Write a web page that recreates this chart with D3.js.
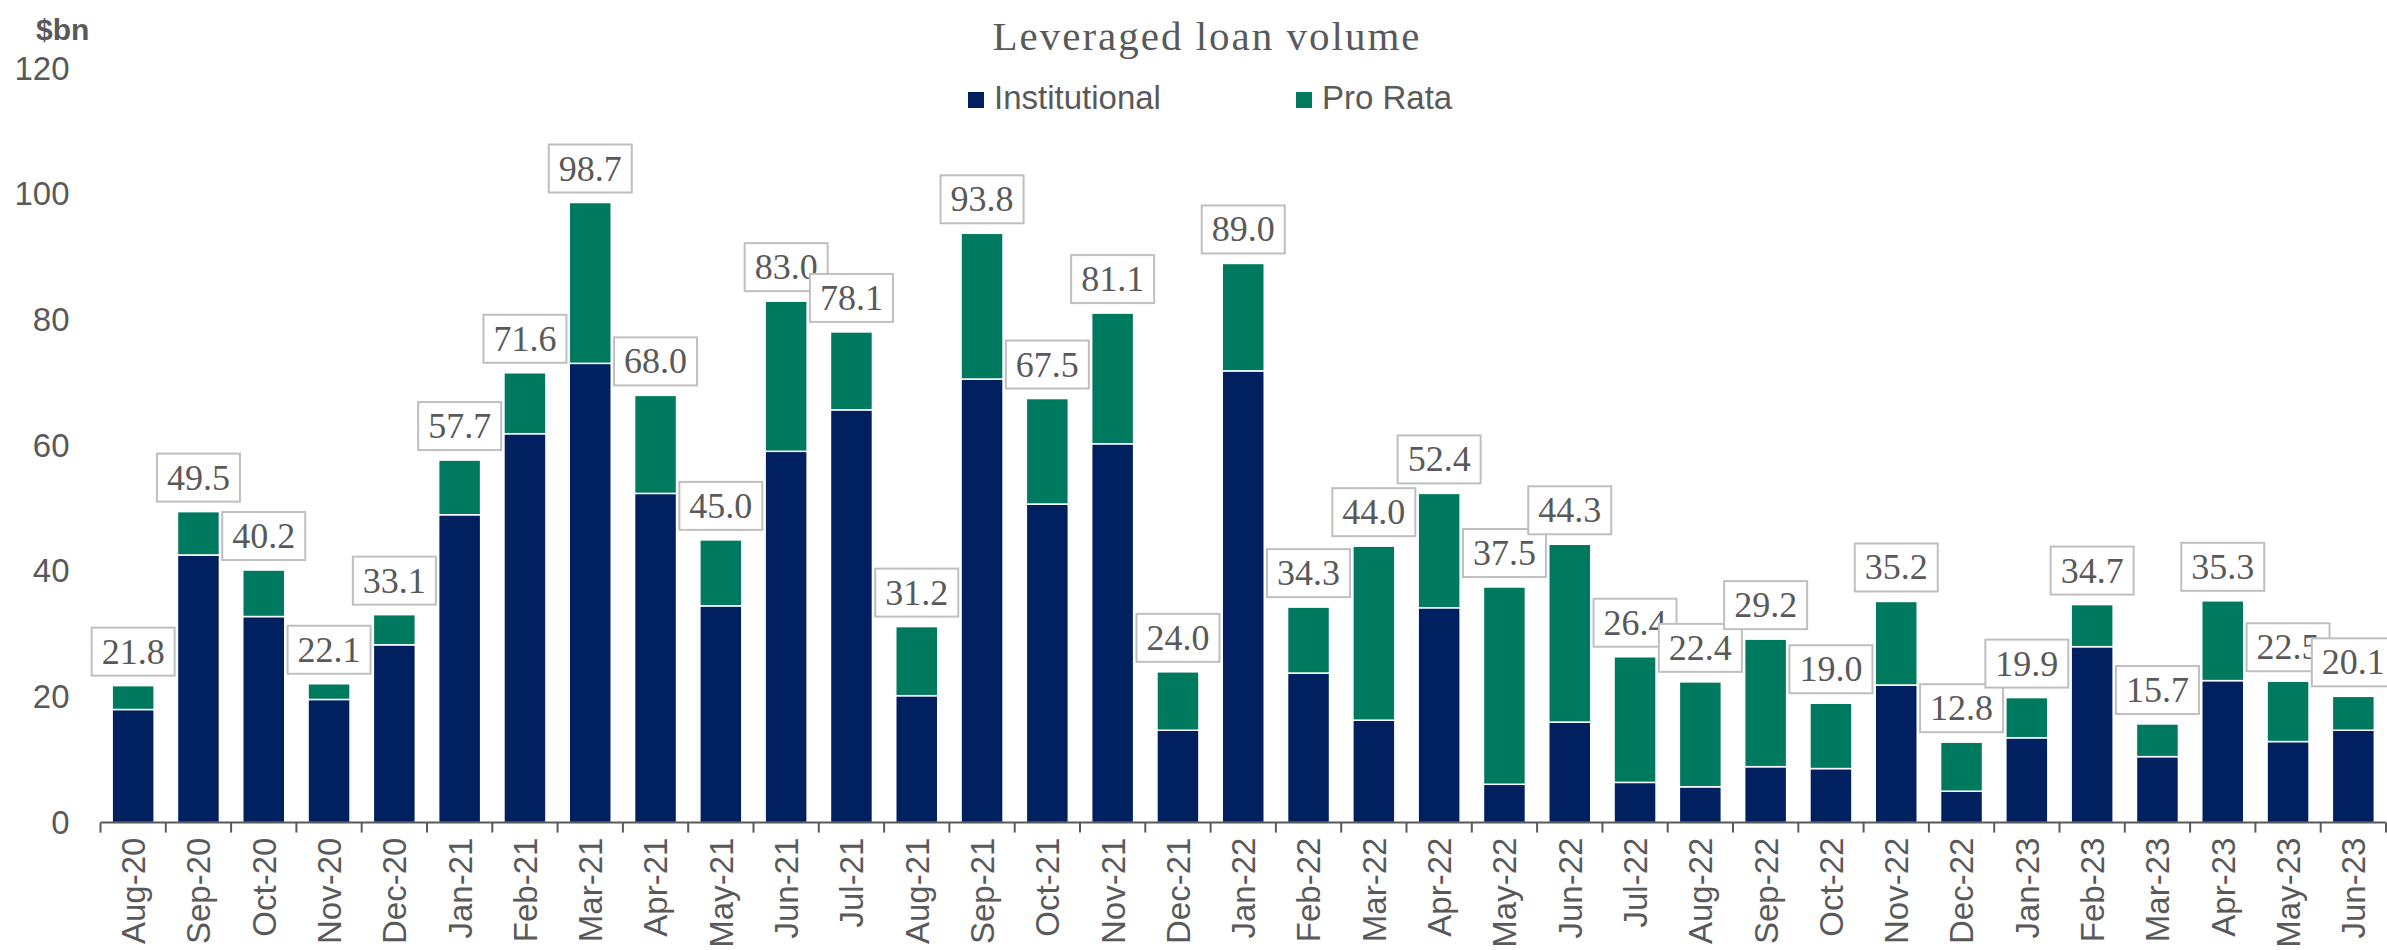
<!DOCTYPE html>
<html>
<head>
<meta charset="utf-8">
<script src="https://cdn.jsdelivr.net/npm/d3@7"></script>
<style>
  html, body { margin: 0; padding: 0; background: #ffffff; }
  svg { display: block; }
</style>
</head>
<body>
<svg id="chart" width="2387" height="950"></svg>
<script>
const categories = ["Aug-20","Sep-20","Oct-20","Nov-20","Dec-20",
  "Jan-21","Feb-21","Mar-21","Apr-21","May-21","Jun-21","Jul-21","Aug-21","Sep-21","Oct-21","Nov-21","Dec-21",
  "Jan-22","Feb-22","Mar-22","Apr-22","May-22","Jun-22","Jul-22","Aug-22","Sep-22","Oct-22","Nov-22","Dec-22",
  "Jan-23","Feb-23","Mar-23","Apr-23","May-23","Jun-23"];

const institutional = [18.0,42.6,32.8,19.6,28.3,
  49.0,61.9,73.1,52.4,34.5,59.1,65.7,20.2,70.6,50.7,60.3,14.7,
  71.9,23.8,16.3,34.2,6.1,16.0,6.4,5.7,8.9,8.6,21.9,5.0,
  13.5,28.0,10.5,22.6,12.9,14.7];

const proRata = [3.8,6.9,7.4,2.5,4.8,
  8.7,9.7,25.6,15.6,10.5,23.9,12.4,11.0,23.2,16.8,20.8,9.3,
  17.1,10.5,27.7,18.2,31.4,28.3,20.0,16.7,20.3,10.4,13.3,7.8,
  6.4,6.7,5.2,12.7,9.6,5.4];

const totals = [21.8,49.5,40.2,22.1,33.1,
  57.7,71.6,98.7,68.0,45.0,83.0,78.1,31.2,93.8,67.5,81.1,24.0,
  89.0,34.3,44.0,52.4,37.5,44.3,26.4,22.4,29.2,19.0,35.2,12.8,
  19.9,34.7,15.7,35.3,22.5,20.1];

const yTicks = [0,20,40,60,80,100,120];
const seriesNames = ["Institutional","Pro Rata"];
const titleText = "Leveraged loan volume";
const unitText = "$bn";

const colors = {"Institutional":"#002060","Pro Rata":"#007A5E"};
const textGray = "#595959";

const svg = d3.select("#chart");

const left = 100.5, right = 2386, y0 = 822.6, yTop = 68.7;
const pad = 0.357;

const x = d3.scaleBand().domain(categories).range([left, right])
  .paddingInner(pad).paddingOuter(pad/2);
const y = d3.scaleLinear().domain([0,120]).range([y0, yTop]);

const rows = categories.map((c,i) => ({cat:c, "Institutional":institutional[i], "Pro Rata":proRata[i], total: totals[i]}));
const stacked = d3.stack().keys(seriesNames)(rows);

// bars
svg.append("g").selectAll("g").data(stacked).join("g")
  .attr("fill", d => colors[d.key])
  .selectAll("rect").data(d => d).join("rect")
  .attr("x", d => x(d.data.cat))
  .attr("width", x.bandwidth())
  .attr("y", d => y(d[1]))
  .attr("height", d => y(d[0]) - y(d[1]))
  .attr("stroke", "#ffffff")
  .attr("stroke-width", 1.5);

// y axis (labels only)
const yAxis = svg.append("g").attr("transform", `translate(${left},0)`)
  .call(d3.axisLeft(y).tickValues(yTicks).tickSize(0).tickPadding(31).tickFormat(d3.format("d")));
yAxis.select(".domain").remove();
yAxis.selectAll("text").attr("font-family","Liberation Sans, Arial, sans-serif")
  .attr("font-size", 33).attr("fill", textGray);

// x axis
const xAxis = svg.append("g").attr("transform", `translate(0,${y0})`)
  .call(d3.axisBottom(x).tickSize(0).tickPadding(0));
xAxis.select(".domain").attr("stroke", "#595959").attr("stroke-width", 2)
  .attr("d", `M${left},0H${right}`);
xAxis.selectAll(".tick text")
  .attr("font-family","Liberation Sans, Arial, sans-serif")
  .attr("font-size", 33).attr("fill", textGray)
  .attr("text-anchor", "end")
  .attr("transform", "translate(0,15) rotate(-90)")
  .attr("x", 0).attr("y", 0).attr("dy", "0.36em");

// tick marks at band boundaries
const step = x.step();
const bounds = categories.map(c => x(c) - (step - x.bandwidth())/2).concat([right]);
xAxis.append("g").selectAll("line").data(bounds).join("line")
  .attr("x1", d => d).attr("x2", d => d)
  .attr("y1", 0).attr("y2", 10)
  .attr("stroke", "#595959").attr("stroke-width", 2);

// data labels
const lbl = svg.append("g");
const fmt = d3.format(".1f");
rows.forEach(r => {
  const cx = x(r.cat) + x.bandwidth()/2;
  const top = y(r["Institutional"] + r["Pro Rata"]);
  const g = lbl.append("g");
  const t = g.append("text")
    .attr("x", cx).attr("y", top - 10 - 24)
    .attr("text-anchor", "middle").attr("dominant-baseline", "central")
    .attr("font-family", "Liberation Serif, Times New Roman, serif")
    .attr("font-size", 36).attr("fill", textGray)
    .text(fmt(r.total));
  const bb = t.node().getBBox();
  const w = bb.width + 20, h = 48;
  g.insert("rect", "text")
    .attr("x", cx - w/2).attr("y", top - 10 - h)
    .attr("width", w).attr("height", h)
    .attr("fill", "#ffffff").attr("stroke", "#bfbfbf").attr("stroke-width", 2);
});

// title
svg.append("text").attr("x", 1207).attr("y", 50)
  .attr("text-anchor", "middle")
  .attr("font-family", "Liberation Serif, Times New Roman, serif")
  .attr("font-size", 41).attr("letter-spacing", "2px")
  .attr("fill", textGray).text(titleText);

// unit label
svg.append("text").attr("x", 36).attr("y", 40)
  .attr("font-family", "Liberation Sans, Arial, sans-serif")
  .attr("font-size", 30).attr("font-weight", "bold")
  .attr("fill", textGray).text(unitText);

// legend
const legendPos = [{name:"Institutional", x:968}, {name:"Pro Rata", x:1296}];
const leg = svg.append("g");
legendPos.forEach(l => {
  leg.append("rect").attr("x", l.x).attr("y", 92).attr("width", 16).attr("height", 16)
    .attr("fill", colors[l.name]);
  leg.append("text").attr("x", l.x + 26).attr("y", 109)
    .attr("font-family", "Liberation Sans, Arial, sans-serif")
    .attr("font-size", 33).attr("fill", textGray).text(l.name);
});
</script>
</body>
</html>
